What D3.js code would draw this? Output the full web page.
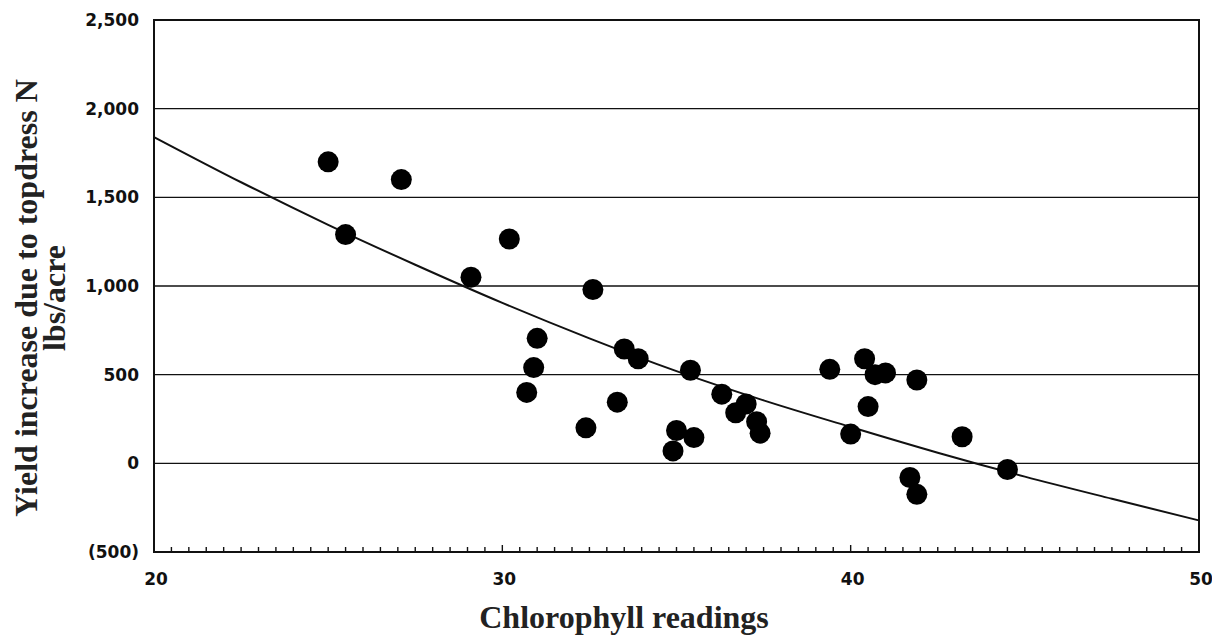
<!DOCTYPE html>
<html>
<head>
<meta charset="utf-8">
<script src="https://cdn.jsdelivr.net/npm/d3@7"></script>
<style>
  html, body { margin: 0; padding: 0; background: #fff; }
  svg { display: block; }
</style>
</head>
<body>
<svg id="chart" width="1212" height="635"></svg>
<script>
// ---- Data ----
const chlorophyll = [
  25.0, 25.5, 27.1, 29.1, 30.2, 31.0, 30.9, 30.7, 32.6, 32.4, 33.3,
  33.5, 33.9, 35.4, 35.0, 34.9, 35.5, 36.3, 37.0, 36.7, 37.3, 37.4,
  39.4, 40.4, 40.7, 41.0, 41.9, 40.5, 40.0, 43.2, 44.5, 41.7, 41.9
];
const yieldIncrease = [
  1700, 1290, 1600, 1050, 1265, 705, 540, 400, 980, 200, 345,
  645, 590, 525, 185, 70, 145, 390, 335, 285, 235, 170,
  530, 590, 500, 510, 470, 320, 165, 150, -35, -80, -175
];
// Fitted trend curve, read at intervals along the drawn line
const fitX = [20, 22.5, 25, 27.5, 30, 32.5, 35, 37.5, 40, 42.5, 45, 47.5, 50];
const fitY = [1840, 1585, 1345, 1120, 905, 705, 520, 355, 205, 60, -75, -200, -322];

const xTicks = [20, 30, 40, 50];
const yTicks = [2500, 2000, 1500, 1000, 500, 0, -500];
const yTickLabels = ["2,500", "2,000", "1,500", "1,000", "500", "0", "(500)"];
const gridValues = [2000, 1500, 1000, 500, 0];

// ---- Layout ----
const svg = d3.select("#chart");
const x = d3.scaleLinear().domain([20, 50]).range([154, 1199]);
const y = d3.scaleLinear().domain([-500, 2500]).range([552, 20]);

const ink = "#111";

// gridlines
svg.append("g").selectAll("line").data(gridValues).join("line")
  .attr("x1", x(20)).attr("x2", x(50))
  .attr("y1", d => y(d)).attr("y2", d => y(d))
  .attr("stroke", ink).attr("stroke-width", 1.4);

// x-axis minor ticks (pointing up, inside the frame)
const minor = d3.range(0, 61).map(i => 20 + i * 0.5).filter(v => v > 20 && v < 50);
svg.append("g").selectAll("line").data(minor).join("line")
  .attr("x1", d => x(d)).attr("x2", d => x(d))
  .attr("y1", y(-500))
  .attr("y2", d => y(-500) - (d % 10 === 0 ? 7 : 5))
  .attr("stroke", ink).attr("stroke-width", 1.4);

// frame
svg.append("rect")
  .attr("x", x(20)).attr("y", y(2500))
  .attr("width", x(50) - x(20)).attr("height", y(-500) - y(2500))
  .attr("fill", "none").attr("stroke", ink).attr("stroke-width", 2);

// trend curve
const pts = fitX.map((d, i) => [d, fitY[i]]);
svg.append("path")
  .datum(pts)
  .attr("d", d3.line().x(d => x(d[0])).y(d => y(d[1])).curve(d3.curveMonotoneX))
  .attr("fill", "none").attr("stroke", ink).attr("stroke-width", 2);

// points
svg.append("g").selectAll("circle").data(chlorophyll.map((d, i) => [d, yieldIncrease[i]])).join("circle")
  .attr("cx", d => x(d[0])).attr("cy", d => y(d[1]))
  .attr("r", 10.5).attr("fill", "#000");

// y tick labels
svg.append("g").selectAll("text").data(yTicks).join("text")
  .attr("x", 139).attr("y", d => y(d))
  .attr("dy", "0.36em")
  .attr("text-anchor", "end")
  .attr("font-family", "'DejaVu Sans', sans-serif")
  .attr("font-weight", "bold").attr("font-size", 17)
  .attr("fill", ink)
  .text((d, i) => yTickLabels[i]);

// x tick labels
svg.append("g").selectAll("text").data(xTicks).join("text")
  .attr("x", d => x(d) + 2).attr("y", 585)
  .attr("text-anchor", "middle")
  .attr("font-family", "'DejaVu Sans', sans-serif")
  .attr("font-weight", "bold").attr("font-size", 17)
  .attr("fill", ink)
  .text(d => d);

// axis titles
svg.append("text")
  .attr("x", 624).attr("y", 628)
  .attr("text-anchor", "middle")
  .attr("font-family", "'Liberation Serif', 'Times New Roman', serif")
  .attr("font-weight", "bold").attr("font-size", 32)
  .attr("fill", "#222")
  .text("Chlorophyll readings");

const yTitle = svg.append("g").attr("transform", "translate(0,298)");
yTitle.append("text")
  .attr("transform", "translate(37,0) rotate(-90)")
  .attr("text-anchor", "middle")
  .attr("font-family", "'Liberation Serif', 'Times New Roman', serif")
  .attr("font-weight", "bold").attr("font-size", 32)
  .attr("fill", "#222")
  .text("Yield increase due to topdress N");
yTitle.append("text")
  .attr("transform", "translate(65,0) rotate(-90)")
  .attr("text-anchor", "middle")
  .attr("font-family", "'Liberation Serif', 'Times New Roman', serif")
  .attr("font-weight", "bold").attr("font-size", 32)
  .attr("fill", "#222")
  .text("lbs/acre");
</script>
</body>
</html>
